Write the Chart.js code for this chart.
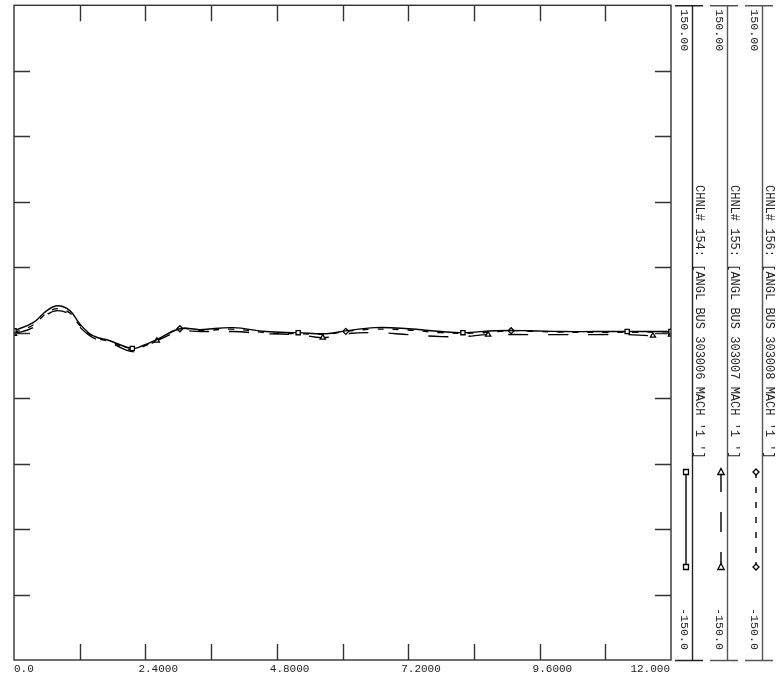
<!DOCTYPE html>
<html>
<head>
<meta charset="utf-8">
<script src="https://cdn.jsdelivr.net/npm/chart.js@4.4.1/dist/chart.umd.min.js"></script>
<style>
  html, body { margin: 0; padding: 0; background: #fff; }
  #wrap { width: 782px; height: 675px; }
</style>
</head>
<body>
<div id="wrap"><canvas id="plot" width="782" height="675"></canvas></div>
<script>
// time axis (s) and angle values (deg)
var t154 = [0, 0.35, 0.6, 0.8, 1.02, 1.2, 1.44, 1.75, 2.16, 2.36, 2.61, 3.03, 3.4, 4.0, 4.6, 5.19, 5.7, 6.06, 6.6, 7.2, 7.8, 8.2, 8.8, 9.4, 10.0, 10.6, 11.2, 12.0];
var v154 = [0.9, 4.6, 10.1, 12.3, 10.1, 4.1, -1.4, -3.7, -7.3, -5.9, -3.2, 1.8, 1.4, 2.3, 0.5, 0.0, -0.5, 0.8, 2.3, 1.8, 0.5, 0.0, 0.9, 0.9, 0.5, 0.5, 0.5, 0.5];
var m154 = [0, 2.16, 5.19, 8.2, 11.2, 12.0];

var t155 = [0, 0.35, 0.6, 0.8, 1.02, 1.2, 1.44, 1.75, 2.16, 2.36, 2.61, 3.03, 3.4, 4.0, 4.6, 5.19, 5.64, 6.06, 6.6, 7.2, 7.8, 8.2, 8.66, 9.4, 10.0, 10.6, 11.2, 11.67, 12.0];
var v155 = [-0.5, 2.3, 8.2, 10.1, 8.2, 2.7, -2.3, -4.6, -8.7, -6.9, -3.7, 0.5, 0.5, 0.5, -0.5, -0.9, -2.3, -0.5, 0.0, -0.9, -1.8, -1.8, -0.9, -0.9, -0.9, -0.9, -0.9, -1.4, -0.9];
var m155 = [0, 2.61, 5.64, 8.66, 11.67, 12.0];

var t156 = [0, 0.35, 0.6, 0.8, 1.02, 1.2, 1.44, 1.75, 2.16, 2.36, 2.61, 3.03, 3.4, 4.0, 4.6, 5.19, 5.7, 6.06, 6.6, 7.2, 7.8, 8.4, 9.08, 9.6, 10.2, 10.8, 11.4, 12.0];
var v156 = [0.0, 3.5, 9.0, 11.0, 9.0, 3.4, -1.8, -4.1, -8.0, -6.4, -3.5, 1.8, 1.0, 1.6, 0.0, -0.5, -0.7, 0.6, 1.6, 1.2, 0.0, -0.2, 0.9, 0.5, 0.2, 0.2, 0.2, 0.4];
var m156 = [0, 3.03, 6.06, 9.08, 12.0];

var xLabels = ['0.0', '2.4000', '4.8000', '7.2000', '9.6000', '12.000'];
var chnlTitles = ["CHNL# 154: [ANGL BUS 303006 MACH '1 ']", "CHNL# 155: [ANGL BUS 303007 MACH '1 ']", "CHNL# 156: [ANGL BUS 303008 MACH '1 ']"];
var chnlMax = ['150.00', '150.00', '150.00'];
var chnlMin = ['-150.0', '-150.0', '-150.0'];

var X_MIN = 0, X_MAX = 12, X_STEP = 1.2;
var Y_MIN = -150, Y_MAX = 150, Y_STEP = 30;

var INK = '#222';
var FONT = '"Liberation Mono", "DejaVu Sans Mono", monospace';

function pts(t, v) {
  return t.map(function (x, i) { return { x: x, y: v[i] }; });
}
function markerRadius(marks) {
  return function (c) {
    return c.raw && marks.indexOf(c.raw.x) >= 0 ? 3 : 0;
  };
}

var styles = [
  { marks: m154, dash: [], point: 'rect' },
  { marks: m155, dash: [20, 20], point: 'triangle' },
  { marks: m156, dash: [6, 9], point: 'rectRot' }
];

function drawMark(ctx, kind, x, y) {
  ctx.save();
  ctx.setLineDash([]);
  ctx.fillStyle = '#fff';
  ctx.strokeStyle = '#000';
  ctx.lineWidth = 1.3;
  ctx.beginPath();
  if (kind === 'rect') {
    ctx.rect(x - 2.5, y - 2.5, 5, 5);
  } else if (kind === 'triangle') {
    ctx.moveTo(x, y - 3.5);
    ctx.lineTo(x + 3.2, y + 2.5);
    ctx.lineTo(x - 3.2, y + 2.5);
    ctx.closePath();
  } else {
    ctx.moveTo(x, y - 3);
    ctx.lineTo(x + 3, y);
    ctx.lineTo(x, y + 3);
    ctx.lineTo(x - 3, y);
    ctx.closePath();
  }
  ctx.fill();
  ctx.stroke();
  ctx.restore();
}

function vText(ctx, str, x, y) {
  ctx.save();
  ctx.translate(x, y);
  ctx.rotate(Math.PI / 2);
  ctx.textAlign = 'left';
  ctx.textBaseline = 'middle';
  ctx.fillText(str, 0, 0);
  ctx.restore();
}

var framePlugin = {
  id: 'frame',
  afterDraw: function (chart) {
    var ctx = chart.ctx, a = chart.chartArea;
    var xs = chart.scales.x, ys = chart.scales.y;
    ctx.save();
    ctx.strokeStyle = '#333';
    ctx.lineWidth = 1.4;
    ctx.setLineDash([]);
    ctx.strokeRect(a.left, a.top, a.right - a.left, a.bottom - a.top);

    var TL = 16;
    ctx.beginPath();
    for (var v = X_MIN + X_STEP; v < X_MAX - 0.001; v += X_STEP) {
      var px = Math.round(xs.getPixelForValue(v)) + 0.5;
      ctx.moveTo(px, a.top); ctx.lineTo(px, a.top + TL);
      ctx.moveTo(px, a.bottom); ctx.lineTo(px, a.bottom - TL);
    }
    for (var w = Y_MIN + Y_STEP; w < Y_MAX - 0.001; w += Y_STEP) {
      var py = Math.round(ys.getPixelForValue(w)) + 0.5;
      ctx.moveTo(a.left, py); ctx.lineTo(a.left + TL, py);
      ctx.moveTo(a.right, py); ctx.lineTo(a.right - TL, py);
    }
    ctx.stroke();

    // x tick labels
    ctx.fillStyle = INK;
    ctx.font = '11px ' + FONT;
    ctx.textBaseline = 'top';
    xLabels.forEach(function (lab, i) {
      var px = xs.getPixelForValue(X_MIN + i * 2 * X_STEP);
      if (i === 0) { ctx.textAlign = 'left'; ctx.fillText(lab, a.left, a.bottom + 4); }
      else if (i === xLabels.length - 1) { ctx.textAlign = 'right'; ctx.fillText(lab, a.right - 1, a.bottom + 4); }
      else { ctx.textAlign = 'left'; ctx.fillText(lab, px - 7, a.bottom + 4); }
    });

    // channel panels on the right
    for (var k = 0; k < 3; k++) {
      var lx = 692 + 35 * k;
      ctx.strokeStyle = k === 0 ? '#222' : '#555';
      ctx.lineWidth = 1.4;
      ctx.beginPath();
      ctx.moveTo(lx + 0.5, a.top); ctx.lineTo(lx + 0.5, a.bottom);
      ctx.moveTo(lx - 17, a.top + 0.5); ctx.lineTo(lx + 11, a.top + 0.5);
      ctx.moveTo(lx - 17, a.bottom + 0.5); ctx.lineTo(lx + 11, a.bottom + 0.5);
      ctx.stroke();

      ctx.fillStyle = INK;
      ctx.font = '11.7px ' + FONT;
      vText(ctx, chnlMax[k], lx - 8, a.top + 4);
      vText(ctx, chnlMin[k], lx - 8, a.bottom - 52);
      ctx.font = '12px ' + FONT;
      vText(ctx, chnlTitles[k], lx + 7, 185);

      var sx = lx - 6, y1 = 472, y2 = 567;
      ctx.strokeStyle = '#000';
      ctx.lineWidth = 1.4;
      ctx.setLineDash(styles[k].dash);
      ctx.beginPath();
      ctx.moveTo(sx, y1); ctx.lineTo(sx, y2);
      ctx.stroke();
      ctx.setLineDash([]);
      drawMark(ctx, styles[k].point, sx, y1);
      drawMark(ctx, styles[k].point, sx, y2);
    }
    ctx.restore();
  }
};

var series = [pts(t154, v154), pts(t155, v155), pts(t156, v156)];

new Chart(document.getElementById('plot'), {
  type: 'line',
  data: {
    datasets: series.map(function (d, i) {
      return {
        label: chnlTitles[i],
        data: d,
        borderColor: '#000',
        borderWidth: 1.4,
        borderDash: styles[i].dash,
        tension: 0.4,
        fill: false,
        pointStyle: styles[i].point,
        pointRadius: markerRadius(styles[i].marks),
        pointBackgroundColor: '#fff',
        pointBorderColor: '#000',
        pointBorderWidth: 1.3
      };
    })
  },
  options: {
    responsive: false,
    animation: false,
    events: [],
    layout: { padding: { left: 14, right: 111, top: 4, bottom: 15 } },
    scales: {
      x: { type: 'linear', min: X_MIN, max: X_MAX, display: false },
      y: { type: 'linear', min: Y_MIN, max: Y_MAX, display: false }
    },
    plugins: { legend: { display: false }, tooltip: { enabled: false } }
  },
  plugins: [framePlugin]
});
</script>
</body>
</html>
